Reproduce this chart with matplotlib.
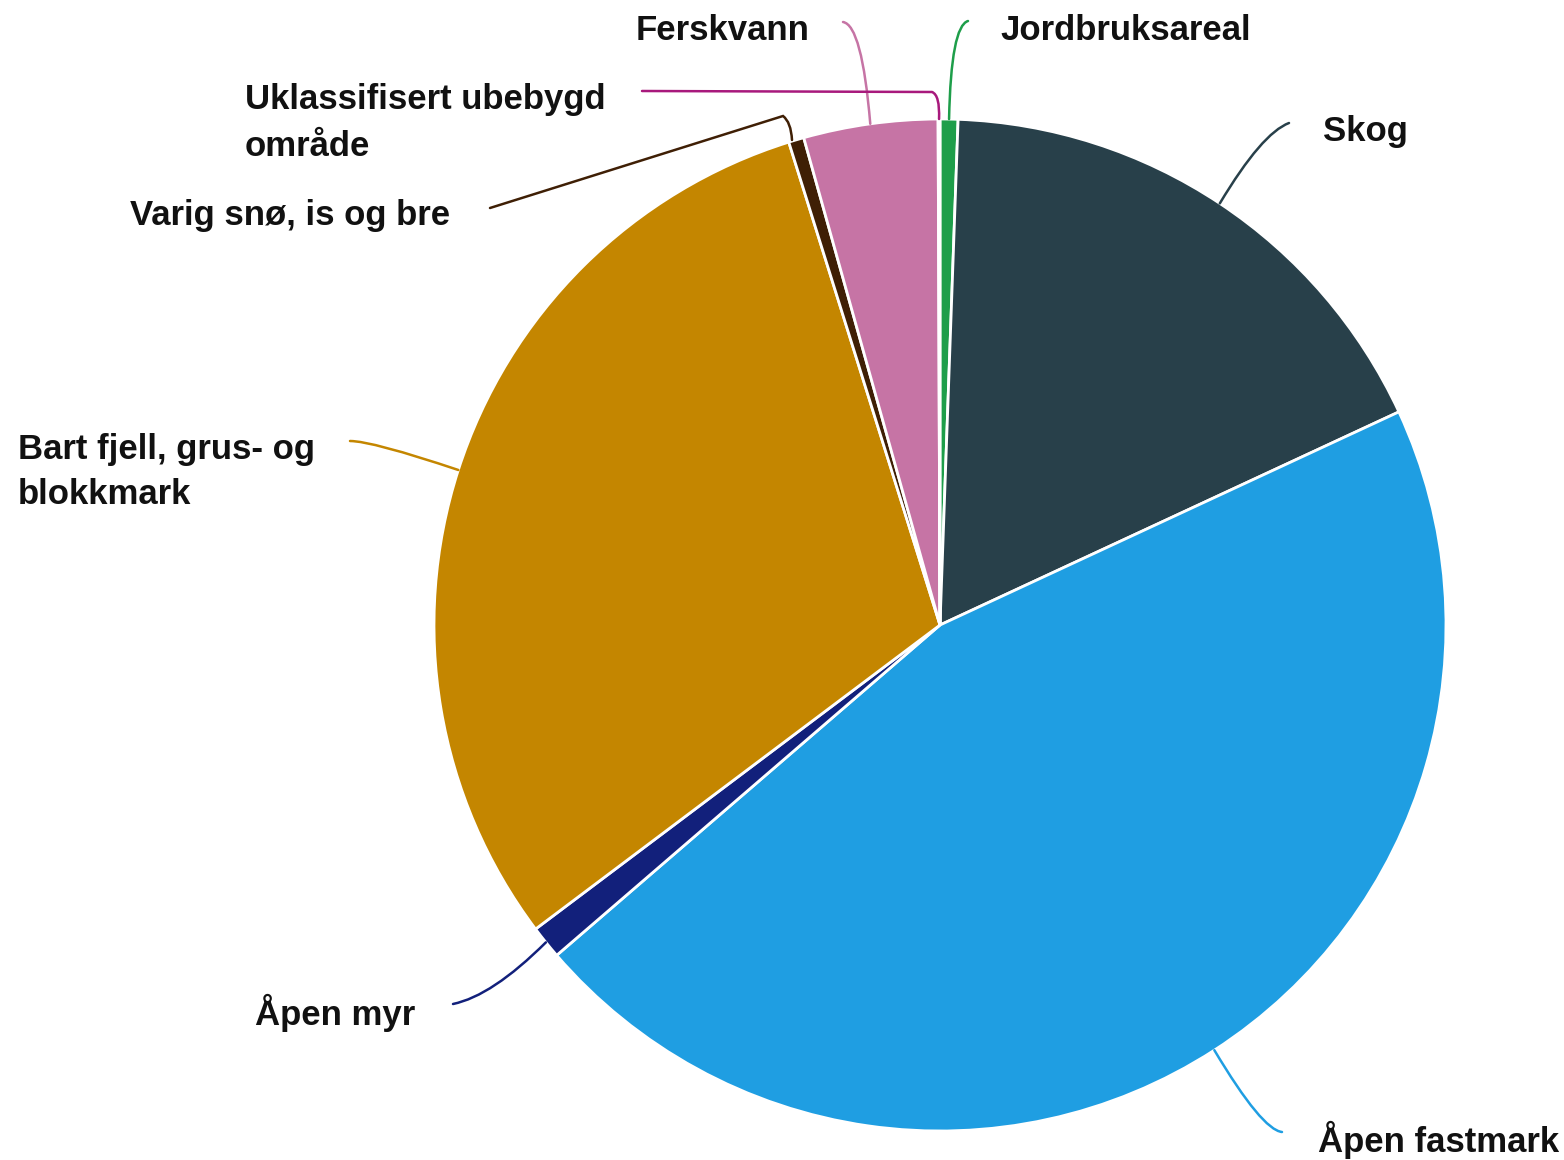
import numpy as np
import matplotlib
matplotlib.use("Agg")
import matplotlib.pyplot as plt
from matplotlib.path import Path
from matplotlib.patches import PathPatch

# ---- data ----
categories = ["Jordbruksareal", "Skog", "Åpen fastmark", "Åpen myr",
              "Bart fjell, grus- og\nblokkmark", "Varig snø, is og bre",
              "Ferskvann", "Uklassifisert ubebygd\nområde"]
values = [0.57, 17.51, 45.60, 1.06, 30.43, 0.49, 4.28, 0.06]
colors = ["#1e9e4a", "#28404a", "#1f9ee2", "#12207b",
          "#c48600", "#3f1f05", "#c674a5", "#a8197c"]

# ---- layout (pixel coords, y down) ----
W, H = 1564, 1160
CX, CY, R = 940, 625, 506
# label left x, label centre y
label_pos = [(1000, 30), (1323, 132), (1318, 1140), (255, 1013),
             (18, 472), (130, 215), (636, 30), (245, 123)]
# leader: label-end point and control points (pixel), rim end computed
leaders = [
    [(968, 21), (951, 26)],
    [(1289, 123), (1262, 133)],
    [(1282, 1132), (1262, 1130)],
    [(453, 1004), (492, 996)],
    [(350, 441), (372, 441)],
    [(490, 208), (783, 116), (791, 122)],
    [(843, 22), (862, 25)],
    [(642, 91), (932, 92), (940, 95)],
]

fig = plt.figure(figsize=(W / 100, H / 100), dpi=100)
ax = fig.add_axes([0, 0, 1, 1])

def fy(y):
    return H - y

wedges, _ = ax.pie(values, colors=colors, startangle=90, counterclock=False,
                   center=(CX, fy(CY)), radius=R,
                   wedgeprops=dict(edgecolor="white", linewidth=2.0))
ax.set_xlim(0, W)
ax.set_ylim(0, H)
ax.set_aspect("equal")
ax.axis("off")

total = sum(values)
cum = 0.0
for i, v in enumerate(values):
    mid = (cum + v / 2) / total * 360.0
    cum += v
    a = np.deg2rad(mid)
    rx = CX + R * np.sin(a)
    ry = CY - R * np.cos(a)
    if i == 5:
        rx, ry = 792, 140
    pts = leaders[i]
    if len(pts) == 2:
        verts = [pts[0], pts[1], (rx, ry)]
        codes = [Path.MOVETO, Path.CURVE3, Path.CURVE3]
    else:
        verts = [pts[0], pts[1], pts[2], (rx, ry)]
        codes = [Path.MOVETO, Path.LINETO, Path.CURVE3, Path.CURVE3]
    verts = [(x, fy(y)) for x, y in verts]
    ax.add_patch(PathPatch(Path(verts, codes), fill=False,
                           edgecolor=colors[i], linewidth=1.8,
                           capstyle="round"))
    lx, ly = label_pos[i]
    ax.text(lx, fy(ly), categories[i], ha="left", va="center",
            fontsize=25, fontweight="bold", family="Liberation Sans",
            color="#111111", linespacing=1.5)

fig.savefig("out.png", dpi=100, facecolor="white")
